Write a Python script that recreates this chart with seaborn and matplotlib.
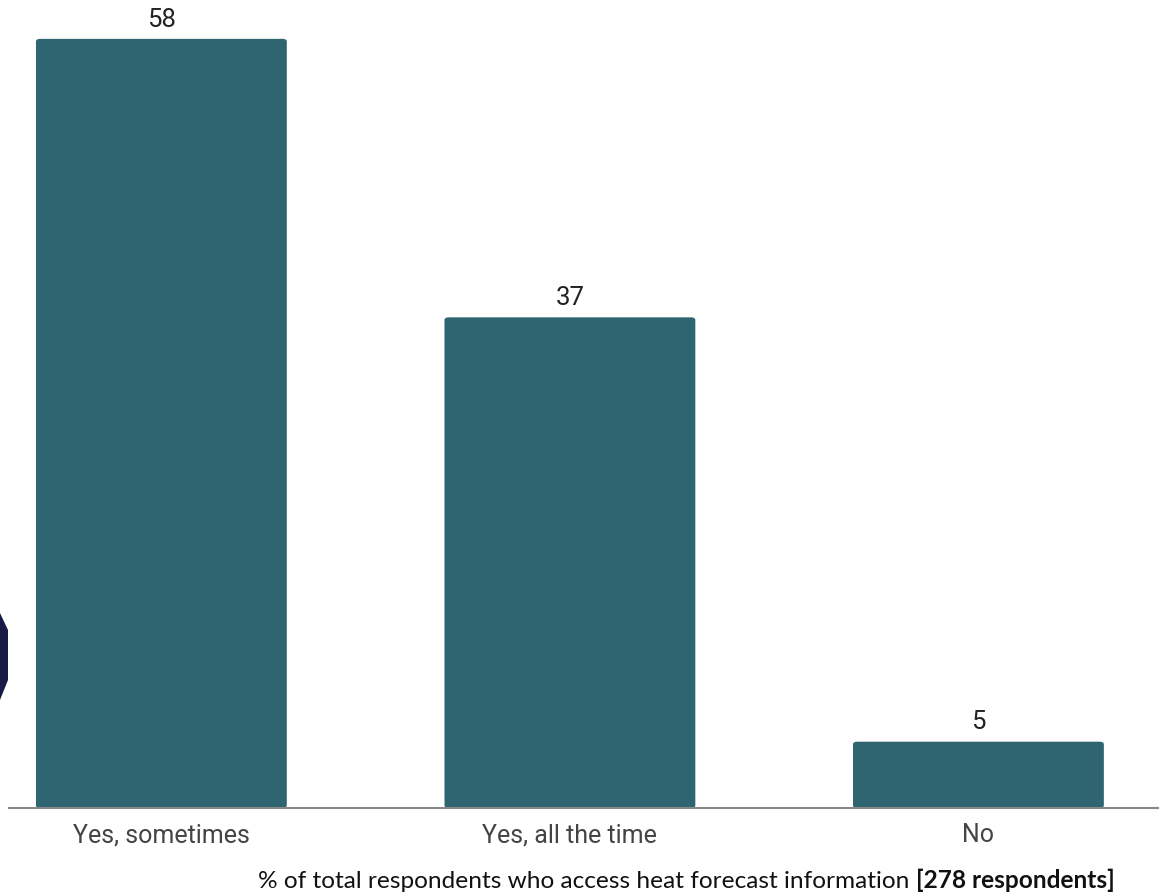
import matplotlib
matplotlib.use("Agg")
import matplotlib.pyplot as plt
import seaborn as sns
import pandas as pd
from matplotlib.patches import FancyBboxPatch, Polygon

# data
answers = ["Yes, sometimes", "Yes, all the time", "No"]
percent = [58, 37, 5]

df = pd.DataFrame({"answer": answers, "percent": percent})

sns.set_theme(style="white")
plt.rcParams["font.family"] = ["Roboto", "DejaVu Sans"]

bar_color = "#2e6570"

fig = plt.figure(figsize=(11.59, 8.93), dpi=100)
ax = fig.add_axes([9 / 1159, 85 / 893, 1150 / 1159, 808 / 893])

sns.barplot(data=df, x="answer", y="percent", color=bar_color,
            width=0.614, saturation=1, ax=ax)

# swap the plain rectangles for ones with slightly rounded corners
for p in list(ax.patches):
    x, y, w, h = p.get_x(), p.get_y(), p.get_width(), p.get_height()
    p.remove()
    ax.add_patch(FancyBboxPatch((x, y), w, h,
                                boxstyle="round,pad=0,rounding_size=0.01",
                                mutation_aspect=20,
                                facecolor=bar_color, edgecolor="none"))

ax.set_xlim(-0.373, 2.442)
ax.set_ylim(0, 60.93)

for i, v in enumerate(percent):
    ax.text(i, v + 0.55, str(v), ha="center", va="bottom",
            fontsize=18.5, color="#222222")

ax.set_xlabel("")
ax.set_ylabel("")
ax.set_yticks([])
ax.tick_params(axis="x", length=0, labelsize=18, labelcolor="#444444", pad=11)
for s in ["top", "right", "left"]:
    ax.spines[s].set_visible(False)
ax.spines["bottom"].set_color("#888888")
ax.spines["bottom"].set_linewidth(1.5)

# caption with bold respondent count
cap = fig.text(258 / 1159, 1 / 893, "% of total respondents who access heat forecast information ",
               ha="left", va="bottom", fontsize=17.6, family=["Lato", "DejaVu Sans"],
               color="#111111")
fig.canvas.draw()
bb = cap.get_window_extent()
fig.text(bb.x1 / 1159, 1 / 893, "[278 respondents]", ha="left", va="bottom",
         fontsize=17.6, fontweight="bold", family=["Lato", "DejaVu Sans"], color="#111111")

# dark decorative shape at the left edge
fig.patches.append(Polygon([[0, 280], [8, 263], [8, 213], [0, 193]],
                           closed=True, transform=None, facecolor="#161a45",
                           edgecolor="none"))

fig.savefig("out.png", dpi=100)
